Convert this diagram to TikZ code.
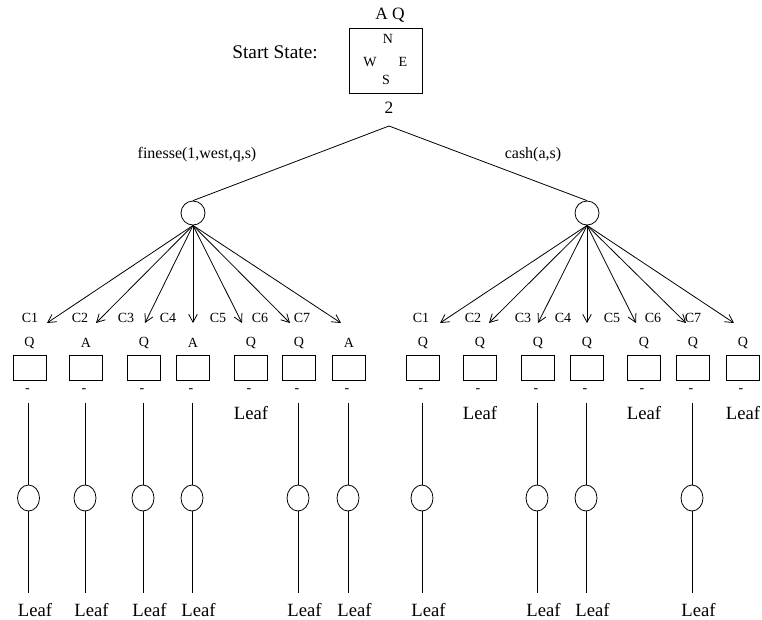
\documentclass[tikz,border=0pt]{standalone}
\usepackage{fontspec}
\setmainfont{Liberation Serif}
\usepackage{tikz}
\usetikzlibrary{arrows.meta,shapes.geometric,positioning}
\tikzstyle{chance} = [draw, circle, inner sep=0pt, minimum size=18pt]
\tikzstyle{oppnode} = [draw, ellipse, inner sep=0pt, minimum width=16.5pt, minimum height=19.5pt]
\tikzstyle{card} = [draw, rectangle, inner sep=0pt, minimum width=24.75pt, minimum height=18.75pt]
\tikzstyle{branch} = [-{Straight Barb[length=6pt,width=6.5pt]}]
\tikzstyle{movelbl} = [font=\fontsize{12}{14}\selectfont]
\tikzstyle{clbl} = [font=\fontsize{10.5}{12}\selectfont]
\tikzstyle{seat} = [font=\fontsize{10.5}{12}\selectfont, inner sep=0pt]
\tikzstyle{leaflbl} = [font=\fontsize{14}{16}\selectfont, inner sep=0pt]

\begin{document}
\begin{tikzpicture}[x=0.75pt, y=-0.75pt, line width=0.6pt]
\useasboundingbox (0,0) rectangle (762,619);

% Start state
\node[font=\fontsize{14.5}{17}\selectfont] (startlbl) at (275,52) {Start State:};
\node[draw, minimum width=54.75pt, minimum height=48.75pt] (deal) at (385.5,60.5) {};
\node[font=\fontsize{13}{15}\selectfont] (hand) at (390,15) {A Q};
\node[seat] (north) at (388,39) {N};
\node[seat] (west) at (370,62) {W};
\node[seat] (east) at (403,62) {E};
\node[seat] (south) at (386,80) {S};
\node[font=\fontsize{13}{15}\selectfont] (lead) at (389,108) {2};
\coordinate (apex) at (389,126);

% Moves
\node[chance] (fin) at (193,213) {};
\node[chance] (cash) at (587,213) {};
\draw (apex) -- (fin.north);
\draw (apex) -- (cash.north);
\node[movelbl] (finlbl) at (197,155) {finesse(1,west,q,s)};
\node[movelbl] (cashlbl) at (533,155) {cash(a,s)};

% Deals after finesse
\foreach \i/\bx/\tx/\cx/\h in {1/29.5/47/30/Q, 2/86/96/80/A, 3/144/145/126/Q, 4/193/193/168/A, 5/251/242/218/Q, 6/299/290/260/Q, 7/349/341/302/A} {
  \coordinate (Lt\i) at (\tx,323);
  \draw[branch] (fin.south) -- (Lt\i);
  \node[clbl] (Lc\i) at (\cx,318) {C\i};
  \node[clbl] (Lh\i) at (\bx,343) {\h};
  \node[card] (Lb\i) at (\bx,367.5) {};
  \node[clbl] (Ld\i) at (\bx-2,391) {-};
}

% Deals after cash
\foreach \i/\bx/\tx/\cx/\h in {1/423/440/421/Q, 2/480/489/473/Q, 3/538/538/523/Q, 4/587/587/563/Q, 5/644/636/612/Q, 6/693/686/653/Q, 7/743/734/693/Q} {
  \coordinate (Rt\i) at (\tx,323);
  \draw[branch] (cash.south) -- (Rt\i);
  \node[clbl] (Rc\i) at (\cx,318) {C\i};
  \node[clbl] (Rh\i) at (\bx,343) {\h};
  \node[card] (Rb\i) at (\bx,367.5) {};
  \node[clbl] (Rd\i) at (\bx-2,391) {-};
}

% Opponent replies
\foreach \p/\x in {L1/28.5, L2/85, L3/143, L4/192, L6/298, L7/348, R1/422, R3/537, R4/586, R6/692} {
  \coordinate (\p-top) at (\x,403);
  \coordinate (\p-end) at (\x,593);
  \node[oppnode] (\p-opp) at (\x,498) {};
  \draw (\p-top) -- (\p-opp.north);
  \draw (\p-opp.south) -- (\p-end);
  \node[leaflbl, anchor=west] (\p-leaf) at (\x-11,610) {Leaf};
}

% Leaves right after the deal
\foreach \p/\x in {L5/251, R2/480, R5/644, R7/743}
  \node[leaflbl] (\p-leaf) at (\x,413) {Leaf};
\end{tikzpicture}
\end{document}
